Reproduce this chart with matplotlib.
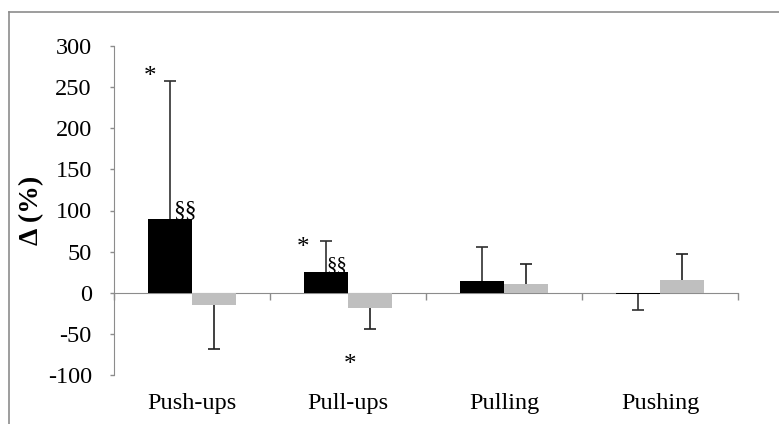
import matplotlib
matplotlib.use("Agg")
import matplotlib.pyplot as plt
from matplotlib.lines import Line2D
import numpy as np

categories = ["Push-ups", "Pull-ups", "Pulling", "Pushing"]
black_vals = [90, 25.5, 14, -1]
black_err = [257, 63, 56, -21]     # error bar end values
gray_vals = [-15, -18, 11, 16]
gray_err = [-68, -44, 35, 47]
yticks = [-100, -50, 0, 50, 100, 150, 200, 250, 300]

plt.rcParams['font.family'] = ['Liberation Serif', 'DejaVu Serif']

fig = plt.figure(figsize=(7.79, 4.24), dpi=100)
ax = fig.add_axes([114/779, 1-375/424, (738-114)/779, (375-46)/424])

x = np.arange(len(categories))
w = 0.282

ax.bar(x - w/2, black_vals, w, color='black', zorder=2)
ax.bar(x + w/2, gray_vals, w, color='#bfbfbf', zorder=2)

def draw_err(xs, vals, ends, color):
    ax.vlines(xs, vals, ends, color=color, lw=1.2, zorder=3)
    ax.plot(xs, ends, ls='none', marker='_', markersize=9, mew=1.2, color=color, zorder=3)

draw_err(x - w/2, black_vals, black_err, '#303030')
draw_err(x + w/2, gray_vals, gray_err, '#202020')

ax.set_xlim(-0.5, len(categories) - 0.5)
ax.set_ylim(-100, 300)
ax.set_yticks(yticks)
ax.set_yticklabels([str(t) for t in yticks], fontsize=17.5)
ax.tick_params(axis='y', length=3, width=1, color='#8c8c8c', pad=13)

ax.spines['top'].set_visible(False)
ax.spines['right'].set_visible(False)
ax.spines['left'].set_color('#8c8c8c')
ax.spines['bottom'].set_color('#8c8c8c')
ax.spines['bottom'].set_position(('data', 0))
ax.spines['bottom'].set_zorder(1)
ax.set_xticks(np.arange(len(categories) + 1) - 0.5)
ax.set_xticklabels([])
ax.tick_params(axis='x', length=5, width=1, color='#8c8c8c', direction='out')

for xi, c in zip(x, categories):
    ax.text(xi, -0.087, c, transform=ax.get_xaxis_transform(), ha='center', va='center', fontsize=17.5)

ax.set_ylabel("Δ (%)", fontsize=20, fontweight='bold')
ax.yaxis.set_label_coords(-0.112, 0.5)

# annotations
ax.text(-0.269, 262, "*", ha='center', va='center', fontsize=18)
ax.text(-0.045, 93, "§§", ha='center', va='baseline', fontsize=17)
ax.text(0.71, 55, "*", ha='center', va='center', fontsize=18)
ax.text(0.93, 28, "§§", ha='center', va='baseline', fontsize=15)
ax.text(1.013, -88, "*", ha='center', va='center', fontsize=18)

# outer border
bx, by = 9/779, 1 - 12/424
fig.add_artist(Line2D([bx, bx], [0, by], transform=fig.transFigure, color='#8c8c8c', lw=1.2))
fig.add_artist(Line2D([bx, 1], [by, by], transform=fig.transFigure, color='#8c8c8c', lw=1.2))

fig.savefig("out.png", dpi=100)
